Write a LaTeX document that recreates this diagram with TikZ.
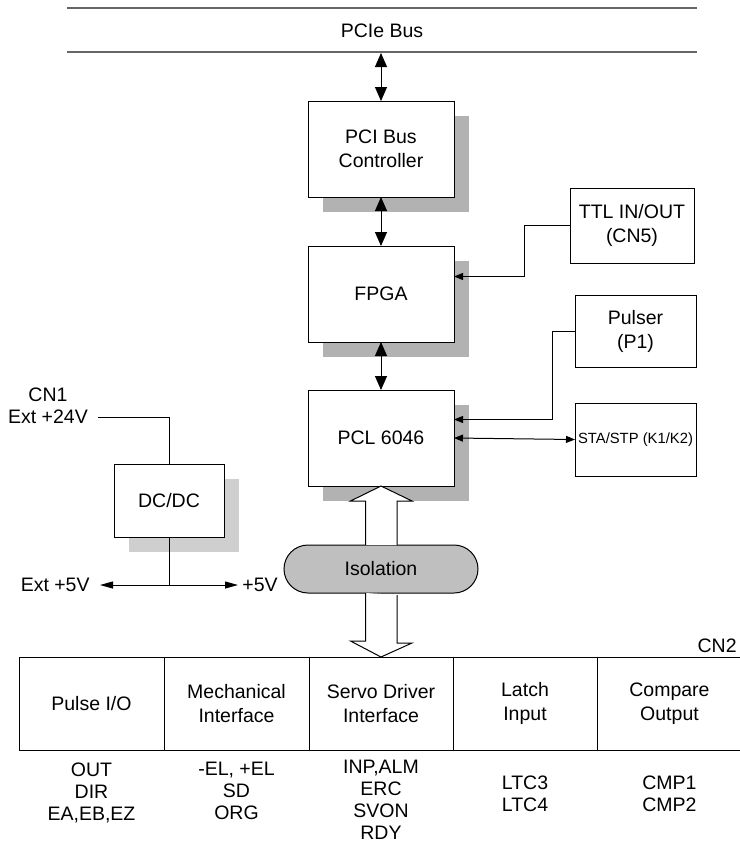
\documentclass[tikz,border=0pt]{standalone}
\usepackage{fontspec}
\setmainfont{Liberation Sans}
\usetikzlibrary{arrows.meta, positioning, calc, shadows}

\begin{document}
\begin{tikzpicture}[
    x=0.5pt, y=-0.5pt,
    font=\fontsize{9.75}{12}\selectfont,
    box/.style={rectangle, draw, fill=white, line width=0.5pt, align=center, inner sep=0pt, outer sep=0pt},
    block/.style={box, minimum width=73pt, minimum height=48pt, drop shadow={shadow xshift=7.5pt, shadow yshift=-7.5pt, fill=black!30, opacity=1}},
    dcblock/.style={box, minimum width=55pt, minimum height=36.5pt, drop shadow={shadow xshift=7.5pt, shadow yshift=-7.5pt, fill=black!19, opacity=1}},
    pill/.style={box, rounded corners=12pt, fill=black!25, minimum width=97pt, minimum height=24pt},
    cell/.style={box, minimum height=46.5pt},
    lbl/.style={align=center, inner sep=2pt},
    siglist/.style={lbl, font=\fontsize{9.75}{11}\selectfont},
    bus/.style={line width=0.7pt, black!60},
    wire/.style={line width=0.5pt},
    bdbl/.style={{Triangle[length=7pt,width=6pt]}-{Triangle[length=7pt,width=6pt]}, line width=0.5pt},
    sarr/.style={-{Triangle[length=4.5pt,width=3.5pt]}, line width=0.5pt},
    sdbl/.style={{Triangle[length=4.5pt,width=3.5pt]}-{Triangle[length=4.5pt,width=3.5pt]}, line width=0.5pt},
    marr/.style={-{Triangle[length=6.5pt,width=3.5pt]}, line width=0.5pt},
    hollow/.style={draw, fill=white, line width=0.5pt, line join=miter}
]
\useasboundingbox (0,0) rectangle (740,848);

% host bus
\draw[bus] (67,8) -- (697,8);
\draw[bus] (67,52) -- (697,52);
\node (pcie) at (382,31) {PCIe Bus};
\coordinate (busbot) at (381,53);

% main chain
\node[block] (pcictl) at (381,149) {PCI Bus\\Controller};
\node[block, below=24.5pt of pcictl] (fpga) {FPGA};
\node[block, below=24pt of fpga] (pcl) {PCL 6046};
\node[pill, below=29.5pt of pcl] (iso) {Isolation};

% side connectors
\node[box, minimum width=62pt, minimum height=37.5pt] (ttl) at (632,225.5) {TTL IN/OUT\\(CN5)};
\node[box, minimum width=60.5pt, minimum height=36pt] (pulser) at (635.5,331) {Pulser\\(P1)};
\node[box, minimum width=60.5pt, minimum height=36.5pt, font=\fontsize{7.4}{9}\selectfont] (stastp) at (635.5,439.5) {STA/STP (K1/K2)};

% power
\node[dcblock] (dcdc) at (169,500.5) {DC/DC};
\node[lbl, inner xsep=5pt] (ext24) at (48,417) {Ext +24V};
\node[lbl, above=0pt of ext24] (cn1) {CN1};
\coordinate (dcjn) at ($(dcdc.south)+(0,48)$);
\node[lbl, inner xsep=5pt, anchor=east] (ext5) at (100,585) {Ext +5V};
\node[lbl, anchor=west] (p5) at (238,585) {+5V};

% CN2 table
\node[cell, minimum width=72.5pt] (cpulse) at (91.5,703.5) {Pulse I/O};
\node[cell, minimum width=72.5pt, right=0pt of cpulse] (cmech) {Mechanical\\Interface};
\node[cell, minimum width=72pt, right=0pt of cmech] (cservo) {Servo Driver\\Interface};
\node[cell, minimum width=72pt, right=0pt of cservo] (clatch) {Latch\\Input};
\node[cell, minimum width=72.5pt, right=0pt of clatch] (ccomp) {Compare\\Output};
\node[lbl, inner sep=1pt, anchor=south east] (cn2) at (739,655) {CN2};

\node[siglist, below=4pt of cpulse] (spulse) {OUT\\DIR\\EA,EB,EZ};
\node[siglist, below=4pt of cmech] (smech) {-EL, +EL\\SD\\ORG};
\node[siglist, below=3pt of cservo] (sservo) {INP,ALM\\ERC\\SVON\\RDY};
\node[siglist, below=10.5pt of clatch] (slatch) {LTC3\\LTC4};
\node[siglist, below=10.5pt of ccomp] (scomp) {CMP1\\CMP2};

% connections
\draw[bdbl] (busbot) -- (pcictl.north);
\draw[bdbl] (pcictl) -- (fpga);
\draw[bdbl] (fpga) -- (pcl);
\draw[sarr] (ttl.west) -- ++(-46,0) |- ($(fpga.east)+(0,-17.5)$);
\draw[sarr] (pulser.west) -- ++(-22.5,0) |- ($(pcl.east)+(0,-18.5)$);
\draw[sdbl] (pcl.east) -- (stastp.west);

\draw[hollow] (iso.north) ++(-15.5,0) -- ++(0,-44) -- ++(-15,0) -- (pcl.south) -- ++(31,15) -- ++(-15,0) -- ++(0,44);
\draw[hollow] (iso.south) ++(-15.5,0) -- ++(0,48) -- ++(-15,0) -- (cservo.north) -- ++(31,-14) -- ++(-15,0) -- ++(0,-48);

\draw[wire] (ext24.east) -| (dcdc.north);
\draw[wire] (dcdc.south) -- (dcjn);
\draw[marr] (dcjn) -- (ext5.east);
\draw[marr] (dcjn) -- (p5.west);

\end{tikzpicture}
\end{document}
